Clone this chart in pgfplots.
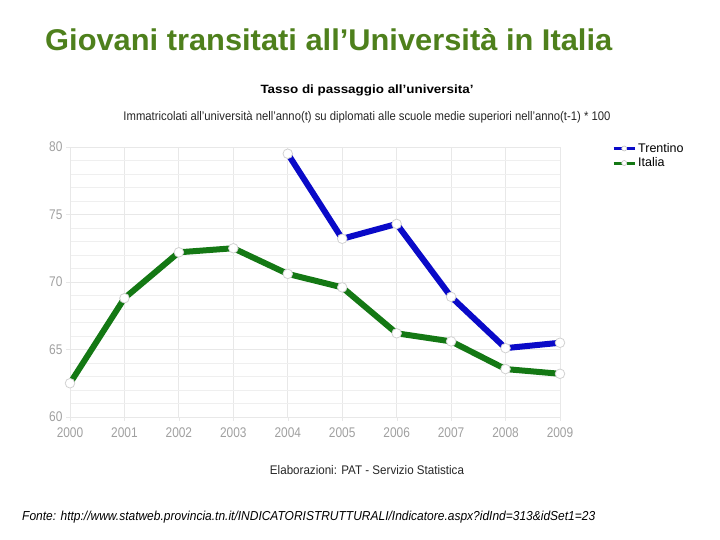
\documentclass[border=0pt]{standalone}
\usepackage{pgfplots}
\pgfplotsset{compat=1.18}
\usepackage{fontspec}
\setmainfont{Liberation Sans}
\definecolor{titlegreen}{RGB}{78,128,28}
\definecolor{tblue}{RGB}{10,10,200}
\definecolor{igreen}{RGB}{20,120,20}
\definecolor{gridc}{RGB}{232,232,232}
\definecolor{tickc}{RGB}{160,160,160}
\begin{document}
\begin{tikzpicture}[x=1pt,y=1pt]
\path (0,0) rectangle (720,540);
% titles
\node[anchor=west,text=titlegreen,inner sep=0] at (45,500) {\resizebox{567pt}{\height}{\fontsize{30}{34}\selectfont\bfseries Giovani transitati all’Università in Italia}};
\node[anchor=center,inner sep=0] at (367,450) {\resizebox{213pt}{\height}{\fontsize{12}{14}\selectfont\bfseries Tasso di passaggio all'universita'}};
\node[anchor=center,inner sep=0,text=black!85] at (367,423) {\resizebox{487pt}{\height}{\fontsize{12.5}{14}\selectfont Immatricolati all'università nell'anno(t) su diplomati alle scuole medie superiori nell'anno(t-1) * 100}};
\node[anchor=center,inner sep=0,text=black!85] at (367,70) {\resizebox{194pt}{\height}{\fontsize{12.5}{14}\selectfont Elaborazioni: PAT - Servizio Statistica}};
\node[anchor=west,inner sep=0] at (22,23) {\resizebox{573pt}{\height}{\fontsize{13}{15}\selectfont\itshape Fonte: http://www.statweb.provincia.tn.it/INDICATORISTRUTTURALI/Indicatore.aspx?idInd=313\&idSet1=23}};
\begin{axis}[
  at={(70pt,123pt)}, anchor=south west,
  scale only axis, width=490pt, height=270pt,
  xmin=2000, xmax=2009, ymin=60, ymax=80,
  xtick={2000,2001,...,2009},
  ytick={60,65,...,80},
  minor y tick num=4,
  xticklabel={\scalebox{0.85}[1]{\pgfmathprintnumber[1000 sep={}]{\tick}}},
  yticklabel={\scalebox{0.85}[1]{\pgfmathprintnumber{\tick}}},
  /pgf/number format/assume math mode=true,
  ticklabel style={text=tickc, font=\fontsize{14}{16}\selectfont},
  xticklabel style={yshift=-3pt},
  grid=both,
  major grid style={draw=gridc, line width=0.8pt},
  minor grid style={draw=gridc!70, line width=0.6pt},
  axis line style={draw=gridc, line width=0.8pt},
  tick style={draw=gridc},
  major tick length=4pt,
  minor tick length=0pt,
  xtick pos=bottom, ytick pos=left,
  tick align=outside,
  clip=false,
  legend style={at={(axis description cs:1,1)}, anchor=north west, xshift=52pt, yshift=6pt, draw=none, fill=none, font=\fontsize{12.5}{13}\selectfont, row sep=0pt, cells={anchor=west}, inner sep=0pt},
  legend cell align=left,
  legend image code/.code={
    \draw[#1, mark=none, line width=3pt] (0pt,0pt) -- (8pt,0pt);
    \draw[#1, mark=none, line width=3pt] (13pt,0pt) -- (21pt,0pt);
    \draw[draw=gray!50, fill=white, line width=0.6pt] (10.5pt,0pt) circle (2.5pt);
  },
]
\addplot[tblue, line width=6pt, mark=*, mark size=4.8pt, mark options={fill=white, draw=gray!35, line width=0.8pt}]
coordinates {(2004,79.5) (2005,73.2) (2006,74.3) (2007,68.9) (2008,65.1) (2009,65.5)};
\addlegendentry{Trentino}
\addplot[igreen, line width=6pt, mark=*, mark size=4.8pt, mark options={fill=white, draw=gray!35, line width=0.8pt}]
coordinates {(2000,62.5) (2001,68.8) (2002,72.2) (2003,72.5) (2004,70.6) (2005,69.6) (2006,66.2) (2007,65.6) (2008,63.55) (2009,63.2)};
\addlegendentry{Italia}
\end{axis}
\end{tikzpicture}
\end{document}
